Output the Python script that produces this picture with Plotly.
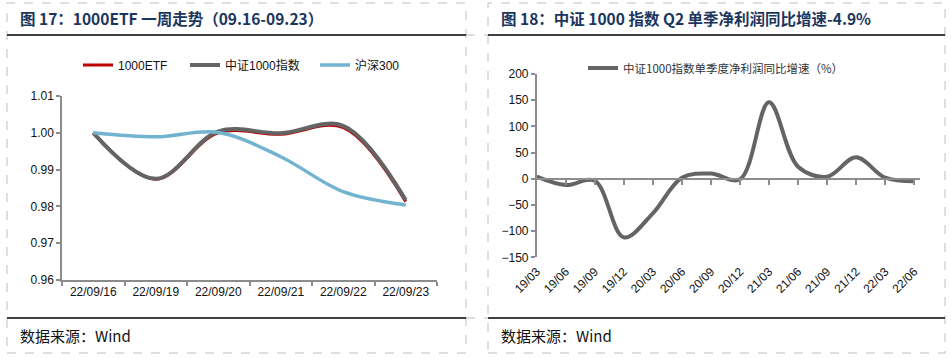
import plotly.graph_objects as go

W, H = 951, 358

# ---------------- data ----------------
dates_left = ["22/09/16", "22/09/19", "22/09/20", "22/09/21", "22/09/22", "22/09/23"]
etf_1000 = [1.000, 0.9874, 1.0000, 0.9996, 1.0014, 0.9813]
csi_1000 = [1.000, 0.9875, 1.0004, 0.9999, 1.0019, 0.9817]
hs_300 = [1.000, 0.9989, 1.0001, 0.9935, 0.9840, 0.9804]

quarters = ["19/03", "19/06", "19/09", "19/12", "20/03", "20/06", "20/09",
            "20/12", "21/03", "21/06", "21/09", "21/12", "22/03", "22/06"]
profit_growth = [4, -12, -4, -112, -66, 2, 10, -1, 146, 23, 4, 41, 2, -4.9]

left_yticks = [0.96, 0.97, 0.98, 0.99, 1.00, 1.01]
right_yticks = [-150, -100, -50, 0, 50, 100, 150, 200]

title_left = "图 17：1000ETF 一周走势（09.16-09.23）"
title_right = "图 18：中证 1000 指数 Q2 单季净利润同比增速-4.9%"
source_text = "数据来源：Wind"


def px(x):
    return x / W


def py(y):
    return 1 - y / H


FONT = "Liberation Sans, Arial, Noto Sans CJK SC, sans-serif"
CJK = "Noto Sans CJK SC, Liberation Sans, sans-serif"

fig = go.Figure()

# ---- left chart traces (each in its own legend so entries sit where the reference has them) ----
fig.add_trace(go.Scatter(x=dates_left, y=etf_1000, name="1000ETF", mode="lines",
                         line=dict(color="#C00000", width=3, shape="spline", smoothing=1.0),
                         xaxis="x", yaxis="y", legend="legend"))
fig.add_trace(go.Scatter(x=dates_left, y=csi_1000, name="中证1000指数", mode="lines",
                         line=dict(color="#646464", width=4, shape="spline", smoothing=1.0),
                         xaxis="x", yaxis="y", legend="legend3"))
fig.add_trace(go.Scatter(x=dates_left, y=hs_300, name="沪深300", mode="lines",
                         line=dict(color="#72B3CF", width=3.5, shape="spline", smoothing=1.0),
                         xaxis="x", yaxis="y", legend="legend4"))

# ---- right chart trace ----
fig.add_trace(go.Scatter(x=list(range(len(quarters))), y=profit_growth,
                         name="中证1000指数单季度净利润同比增速（%）", mode="lines",
                         line=dict(color="#646464", width=4, shape="spline", smoothing=1.0),
                         xaxis="x2", yaxis="y2", legend="legend2"))

axis_col = "#8C8C8C"
tick_font = dict(family=FONT, size=12, color="#111111")


def leg(x_left, y_mid, family, size, color):
    return dict(orientation="h", x=px(x_left), xanchor="left", y=py(y_mid), yanchor="middle",
                font=dict(family=family, size=size, color=color),
                bgcolor="rgba(0,0,0,0)", itemwidth=30)


fig.update_layout(
    width=W, height=H, autosize=False,
    margin=dict(l=0, r=0, t=0, b=0, pad=0, autoexpand=False),
    paper_bgcolor="white", plot_bgcolor="white",
    xaxis=dict(domain=[px(62), px(437)], anchor="y", type="category", automargin=False,
               range=[-0.5, 5.5], tickson="boundaries", ticks="outside", ticklen=4,
               tickcolor=axis_col, tickwidth=1.5, showline=True, linecolor=axis_col,
               linewidth=1.5, showgrid=False, zeroline=False, tickfont=tick_font),
    yaxis=dict(domain=[py(280), py(96)], anchor="x", range=[0.96, 1.01], automargin=False,
               tickvals=left_yticks, tickformat=".2f", ticks="outside", ticklen=4,
               tickcolor=axis_col, tickwidth=1.5, showline=True, linecolor=axis_col,
               linewidth=1.5, showgrid=False, zeroline=False, tickfont=tick_font),
    xaxis2=dict(domain=[px(536.7), px(920)], anchor="y2", range=[0, 13.2], automargin=False,
                tickvals=list(range(len(quarters))), ticktext=quarters, tickangle=-45,
                ticks="", ticklabelstandoff=4, showline=False, showgrid=False,
                zeroline=False, tickfont=tick_font),
    xaxis3=dict(overlaying="x2", anchor="free", position=py(178.8), automargin=False,
                domain=[px(536.7), px(920)], range=[0, 13.2],
                tickvals=list(range(1, len(quarters))), showticklabels=False,
                ticks="outside", ticklen=5, tickcolor=axis_col, tickwidth=1.5,
                showline=True, linecolor=axis_col, linewidth=1.5,
                showgrid=False, zeroline=False),
    yaxis2=dict(domain=[py(257.3), py(74)], anchor="x2", range=[-150, 200], automargin=False,
                tickvals=right_yticks, ticks="outside", ticklen=4,
                tickcolor=axis_col, tickwidth=1.5, showline=True, linecolor=axis_col,
                linewidth=1.5, showgrid=False, zeroline=False, tickfont=tick_font),
    legend=leg(78, 65, FONT, 12, "#111111"),
    legend3=leg(185, 65, FONT, 12, "#111111"),
    legend4=leg(315, 65, FONT, 12, "#111111"),
    legend2=leg(583, 68, CJK, 11.5, "#333333"),
    showlegend=True,
)

# invisible point so the overlaid zero-line axis renders
fig.add_trace(go.Scatter(x=[0], y=[0], mode="markers", marker=dict(opacity=0),
                         xaxis="x3", yaxis="y2", showlegend=False, hoverinfo="skip"))

shapes = []
dash_col = "#BFBFBF"
for (x0, x1) in [(7, 466), (488, 945)]:
    shapes.append(dict(type="rect", xref="paper", yref="paper",
                       x0=px(x0), x1=px(x1), y0=py(353), y1=py(3),
                       line=dict(color=dash_col, width=1, dash="dash")))
    for yy in (35, 318):
        shapes.append(dict(type="line", xref="paper", yref="paper",
                           x0=px(x0), x1=px(x1), y0=py(yy), y1=py(yy),
                           line=dict(color="#000000", width=1.5)))
for yy in (35, 318):
    shapes.append(dict(type="line", xref="paper", yref="paper",
                       x0=px(466), x1=px(488), y0=py(yy), y1=py(yy),
                       line=dict(color=dash_col, width=1, dash="dash")))

annotations = []
title_font = dict(family=CJK, size=15.5, color="#1B365D")
for xx, t in [(18, title_left), (499, title_right)]:
    annotations.append(dict(xref="paper", yref="paper", x=px(xx), y=py(18),
                            xanchor="left", yanchor="middle", showarrow=False,
                            text="<b>" + t + "</b>", font=title_font))
    annotations.append(dict(xref="paper", yref="paper", x=px(xx), y=py(335),
                            xanchor="left", yanchor="middle", showarrow=False,
                            text=source_text,
                            font=dict(family=CJK, size=15, color="#111111")))

fig.update_layout(shapes=shapes, annotations=annotations)

fig.write_html("out.html", config={"displayModeBar": False},
               post_script="document.body.style.margin='0';document.body.style.overflow='hidden';")
